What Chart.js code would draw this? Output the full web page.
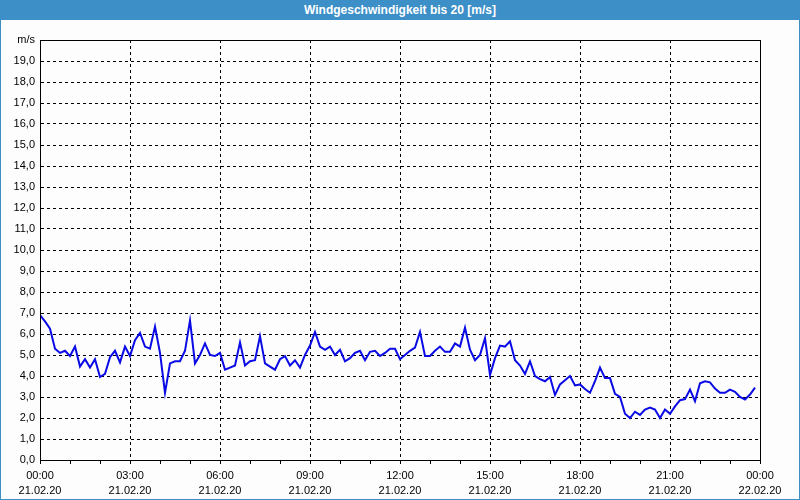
<!DOCTYPE html>
<html>
<head>
<meta charset="utf-8">
<script src="https://cdn.jsdelivr.net/npm/chart.js@4/dist/chart.umd.min.js"></script>
<style>
  body { margin: 0; background: #ffffff; }
  #wrap { position: relative; width: 800px; height: 500px; background: #fcfdfc; }
  #title {
    position: absolute; left: 0; top: 0; width: 800px; height: 20px;
    background: #3d8fc7; color: #ffffff; text-align: center;
    font: bold 12px "Liberation Sans", sans-serif; line-height: 20px;
  }
  #frame {
    position: absolute; left: 0; top: 0; width: 798px; height: 499px;
    border-left: 1px solid #3d8fc7; border-right: 1px solid #3d8fc7; border-bottom: 1px solid #3d8fc7;
    pointer-events: none;
  }
  canvas { position: absolute; left: 0; top: 0; }
</style>
</head>
<body>
<div id="wrap">
  <canvas id="chart" width="800" height="500"></canvas>
  <div id="title">Windgeschwindigkeit bis 20 [m/s]</div>
  <div id="frame"></div>
</div>
<script>
// wind speed every 10 minutes, 21.02.20 00:00 .. 23:50
const stepMinutes = 10
const windSpeed = [
  6.9, 6.6, 6.25, 5.3, 5.1, 5.2, 4.95, 5.4, 4.45, 4.8, 4.4, 4.8,
  3.95, 4.1, 4.9, 5.2, 4.65, 5.4, 4.95, 5.7, 6.05, 5.4, 5.3, 6.35,
  5.1, 3.2, 4.6, 4.7, 4.7, 5.2, 6.65, 4.6, 5.0, 5.55, 5.0, 4.95,
  5.1, 4.3, 4.4, 4.5, 5.6, 4.5, 4.7, 4.75, 5.9, 4.6, 4.45, 4.3,
  4.8, 4.95, 4.5, 4.75, 4.4, 5.0, 5.45, 6.1, 5.4, 5.25, 5.4, 5.0,
  5.25, 4.7, 4.85, 5.1, 5.2, 4.75, 5.15, 5.2, 4.95, 5.1, 5.3, 5.3,
  4.8, 5.0, 5.2, 5.35, 6.1, 4.95, 4.95, 5.2, 5.4, 5.15, 5.15, 5.55,
  5.4, 6.3, 5.25, 4.75, 5.0, 5.8, 4.05, 4.85, 5.45, 5.4, 5.65, 4.75,
  4.5, 4.1, 4.7, 4.0, 3.85, 3.75, 3.95, 3.1, 3.6, 3.8, 4.0, 3.55,
  3.6, 3.38, 3.2, 3.75, 4.4, 3.9, 3.9, 3.15, 3.0, 2.2, 2.0, 2.3,
  2.15, 2.4, 2.5, 2.4, 2.0, 2.4, 2.2, 2.55, 2.85, 2.9, 3.35, 2.8,
  3.65, 3.75, 3.7, 3.4, 3.2, 3.2, 3.35, 3.25, 3.0, 2.88, 3.12, 3.45
]
const xTickTimes = ['00:00', '03:00', '06:00', '09:00', '12:00', '15:00', '18:00', '21:00', '00:00']
const xTickDates = ['21.02.20', '21.02.20', '21.02.20', '21.02.20', '21.02.20', '21.02.20', '21.02.20', '21.02.20', '22.02.20']
const yUnit = 'm/s'
const yMax = 20

const points = windSpeed.map((v, i) => ({ x: i * stepMinutes / 60, y: v }))

// solid frame around the plot
const framePlugin = {
  id: 'frame',
  afterDraw(chart) {
    const { ctx, chartArea: a } = chart
    ctx.save()
    ctx.strokeStyle = '#000'
    ctx.lineWidth = 1
    ctx.strokeRect(Math.round(a.left) + 0.5, Math.round(a.top) + 0.5, Math.round(a.right - a.left), Math.round(a.bottom - a.top))
    ctx.restore()
  }
}

const ctx = document.getElementById('chart').getContext('2d')
new Chart(ctx, {
  type: 'line',
  data: {
    datasets: [{
      data: points,
      borderColor: '#0a0ae6',
      borderWidth: 2,
      pointRadius: 0,
      tension: 0,
      fill: false
    }]
  },
  options: {
    responsive: false,
    animation: false,
    layout: { padding: { left: 0, top: 40, right: 40, bottom: 0 } },
    plugins: { legend: { display: false }, tooltip: { enabled: false } },
    scales: {
      x: {
        type: 'linear',
        min: 0,
        max: 24,
        afterFit: (s) => { s.height = 40 },
        ticks: {
          stepSize: 1,
          autoSkip: false,
          maxRotation: 0,
          padding: 5,
          color: '#000',
          font: { family: 'Liberation Sans', size: 11, lineHeight: 1.35 },
          callback: (v) => v % 3 === 0 ? [xTickTimes[v / 3], xTickDates[v / 3]] : ''
        },
        grid: {
          color: (c) => (c.tick && c.tick.value % 3 === 0 && c.tick.value > 0 && c.tick.value < 24) ? '#000' : 'rgba(0,0,0,0)',
          tickColor: '#000',
          tickLength: 4
        },
        border: { color: '#000', dash: [3, 3] }
      },
      y: {
        min: 0,
        max: yMax,
        afterFit: (s) => { s.width = 40 },
        ticks: {
          stepSize: 1,
          padding: 5,
          color: '#000',
          font: { family: 'Liberation Sans', size: 11 },
          callback: (v) => v === yMax ? yUnit : v.toFixed(1).replace('.', ',')
        },
        grid: {
          color: (c) => (c.tick && c.tick.value > 0 && c.tick.value < yMax) ? '#000' : 'rgba(0,0,0,0)',
          drawTicks: false
        },
        border: { color: '#000', dash: [3, 3] }
      }
    }
  },
  plugins: [framePlugin]
})
</script>
</body>
</html>
